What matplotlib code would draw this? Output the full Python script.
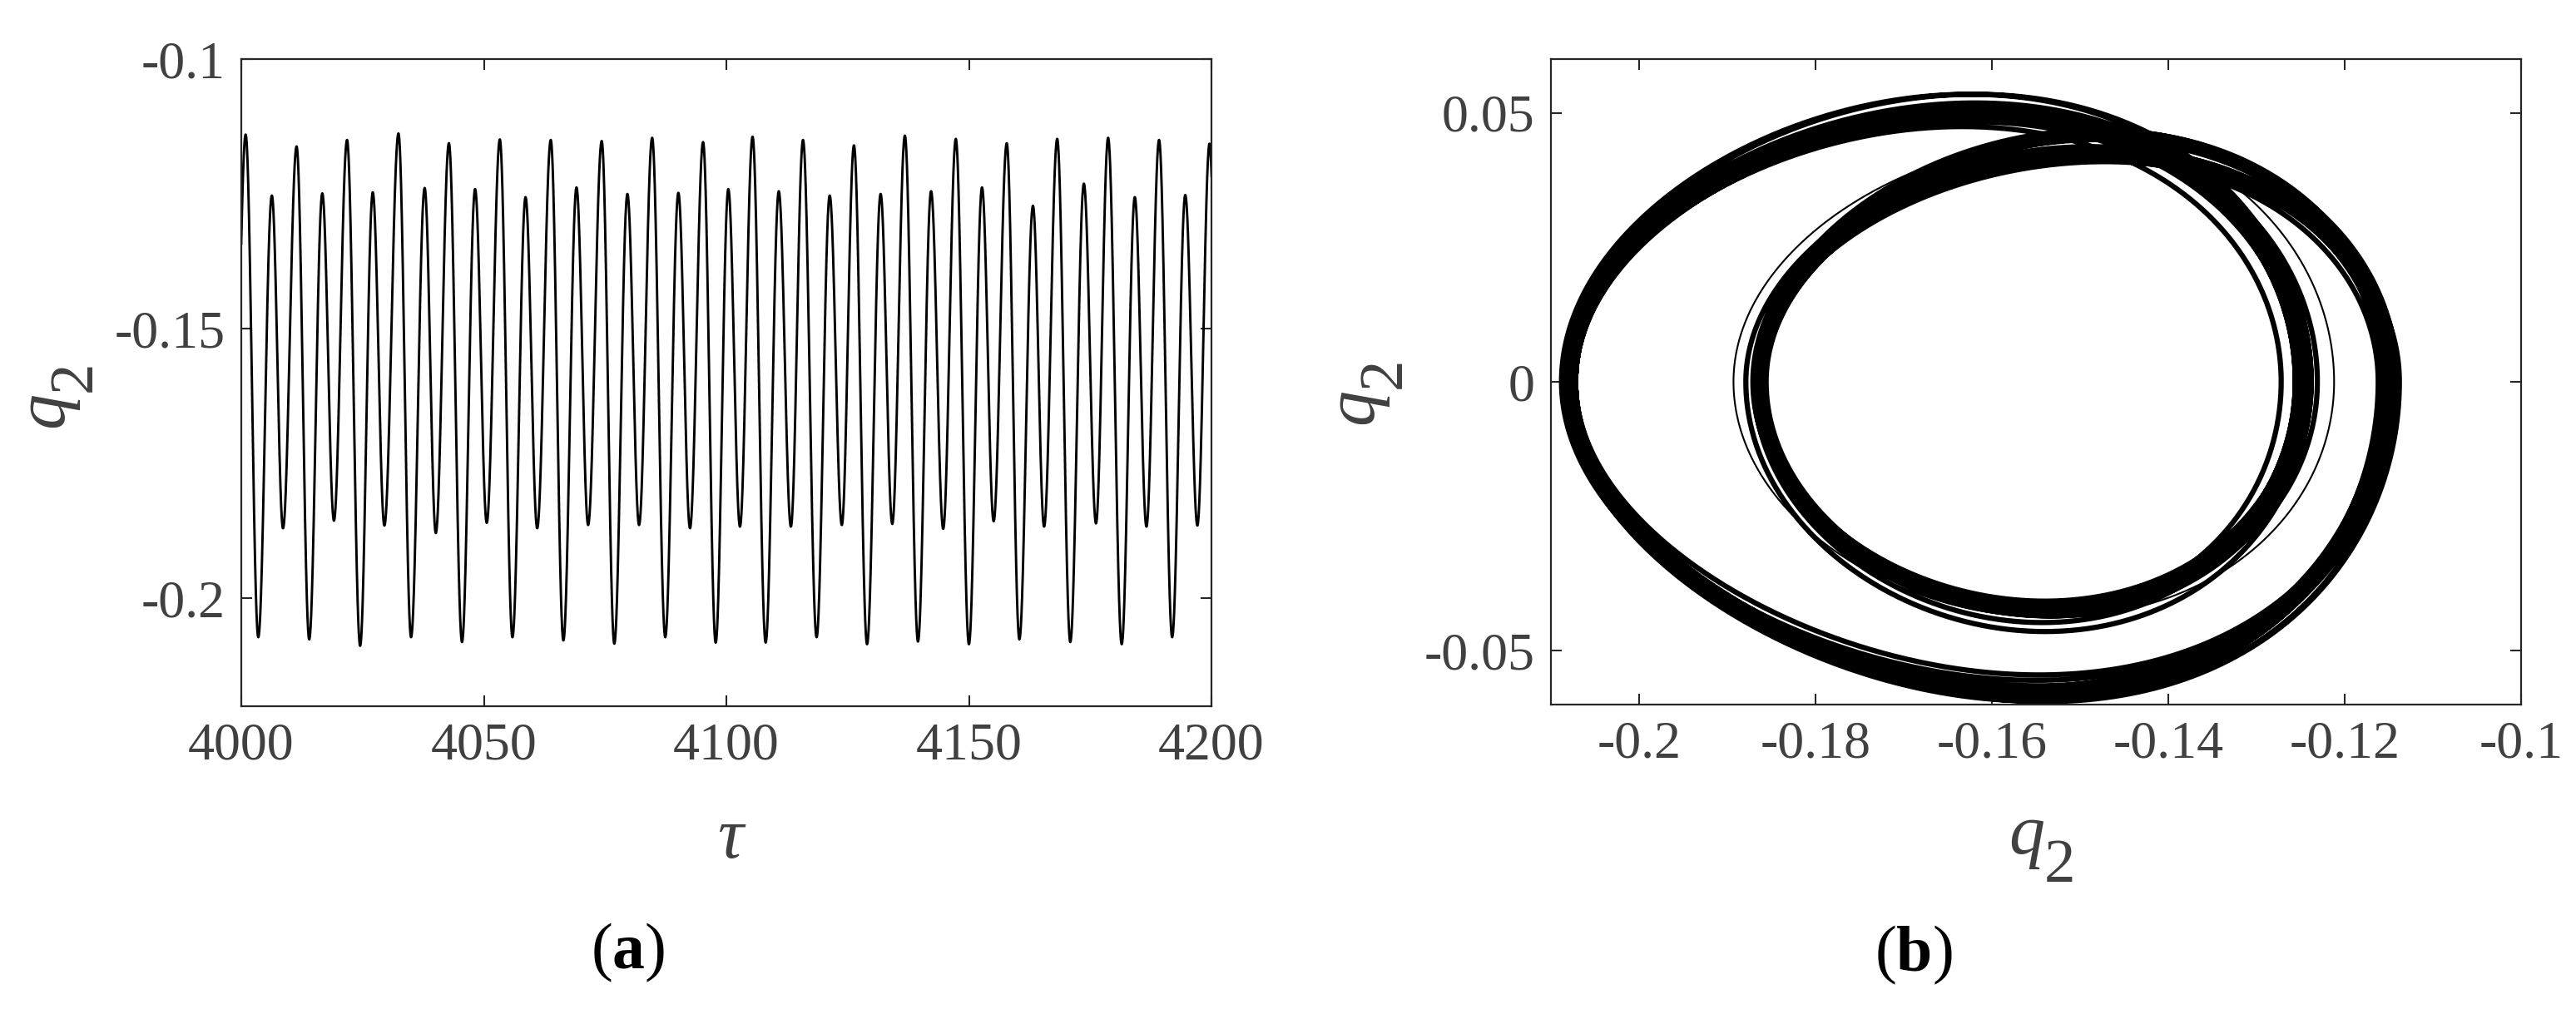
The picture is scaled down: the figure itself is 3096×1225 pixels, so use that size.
import numpy as np
import matplotlib
matplotlib.use("Agg")
import matplotlib.pyplot as plt

plt.rcParams['font.family'] = ['Liberation Serif', 'DejaVu Serif']
plt.rcParams['mathtext.fontset'] = 'custom'
plt.rcParams['mathtext.it'] = 'Liberation Serif:italic'
plt.rcParams['mathtext.rm'] = 'Liberation Serif'
plt.rcParams['mathtext.bf'] = 'Liberation Serif:bold'

# ---- extrema of q2(tau) ----
high_t = [4000.9, 4011.4, 4021.8, 4032.4, 4042.8, 4053.3, 4063.8, 4074.3, 4084.7, 4095.2,
          4105.4, 4115.8, 4126.3, 4136.8, 4147.3, 4157.8, 4168.2, 4178.7, 4189.2, 4199.6]
high_q = [-0.1140, -0.1162, -0.1150, -0.1138, -0.1156, -0.1149, -0.1150, -0.1152, -0.1146, -0.1154,
          -0.1144, -0.1150, -0.1160, -0.1142, -0.1148, -0.1156, -0.1148, -0.1146, -0.1150, -0.1157]
deep_t = [4003.5, 4014.0, 4024.5, 4035.0, 4045.5, 4055.9, 4066.4, 4076.9, 4087.4, 4097.8,
          4108.1, 4118.6, 4129.0, 4139.5, 4150.0, 4160.4, 4170.9, 4181.5, 4191.9]
deep_q = [-0.2072, -0.2076, -0.2088, -0.2072, -0.2081, -0.2072, -0.2078, -0.2084, -0.2072, -0.2082,
          -0.2082, -0.2072, -0.2085, -0.2080, -0.2085, -0.2076, -0.2081, -0.2085, -0.2072]
low_t = [4006.3, 4016.7, 4027.1, 4037.8, 4048.2, 4058.6, 4069.1, 4079.6, 4090.1, 4100.4,
         4110.8, 4121.3, 4131.8, 4142.2, 4152.7, 4163.2, 4173.7, 4184.2, 4194.6]
low_q = [-0.1253, -0.1249, -0.1247, -0.1239, -0.1241, -0.1256, -0.1238, -0.1250, -0.1248, -0.1241,
         -0.1245, -0.1253, -0.1250, -0.1245, -0.1238, -0.1272, -0.1231, -0.1256, -0.1252]
shal_t = [4008.6, 4019.1, 4029.5, 4040.1, 4050.6, 4061.0, 4071.5, 4082.0, 4092.5, 4102.8,
          4113.3, 4123.8, 4134.2, 4144.7, 4155.1, 4165.5, 4176.2, 4186.6, 4197.1]
shal_q = [-0.1870, -0.1856, -0.1865, -0.1879, -0.1860, -0.1870, -0.1864, -0.1864, -0.1870, -0.1867,
          -0.1867, -0.1864, -0.1862, -0.1871, -0.1857, -0.1867, -0.1861, -0.1867, -0.1865]
# extrema just outside the visible window
pre_t, pre_q = 3998.3, -0.1866
post_t, post_q = 4202.2, -0.2078

# phase-plane readings from panel (b): peak dq2/dtau of each half-swing kind
# and where along the swing (fraction of the q2 travel) that peak sits
arc_vpk = {'HD': -0.0577, 'DL': 0.0506, 'LS': -0.0428, 'SH': 0.0440}
arc_peak = {'HD': 0.43, 'DL': 0.55, 'LS': 0.47, 'SH': 0.54}
# one stray inner orbit visible as a thin line in panel (b): D, L, S, H extrema
stray_q = [-0.2080, -0.1212, -0.1893, -0.1150]
stray_vpk = [0.0506, -0.0438, 0.0455]

# ---- assemble ordered extrema ----
ext = [(pre_t, pre_q, 'S')]
for k in range(len(high_t)):
    ext.append((high_t[k], high_q[k], 'H'))
    if k < len(deep_t):
        ext.append((deep_t[k], deep_q[k], 'D'))
        ext.append((low_t[k], low_q[k], 'L'))
        ext.append((shal_t[k], shal_q[k], 'S'))
ext.append((post_t, post_q, 'D'))

segs = [(t0, q0, t1, q1, k0 + k1)
        for (t0, q0, k0), (t1, q1, k1) in zip(ext[:-1], ext[1:])]
mean_rate = {key: np.mean([abs((s[3] - s[1]) / (s[2] - s[0])) for s in segs if s[4] == key])
             for key in arc_vpk}

# time history (panel a): smooth half-swings between the read extrema
u = np.linspace(0, 1, 80)
T = np.concatenate([t0 + u * (t1 - t0) for t0, q0, t1, q1, key in segs])
Q = np.concatenate([q0 + (q1 - q0) * (1 - np.cos(np.pi * u)) / 2 for t0, q0, t1, q1, key in segs])

# phase plane (panel b)
s = np.linspace(0, 1, 300)
w = (1 - np.cos(np.pi * s)) / 2


def arc(q0, q1, vpk, p):
    a = (1 - 2 * p) / (2 * p * (1 - p))
    c = -a / (2 + a * (2 * p - 1))
    f = np.sqrt(np.clip(w * (1 - w), 0, None)) * (1 + c * (2 * w - 1))
    return q0 + (q1 - q0) * w, vpk * f / f.max()


QB, VB = [], []
for t0, q0, t1, q1, key in segs:
    rate = abs((q1 - q0) / (t1 - t0))
    qa, va = arc(q0, q1, arc_vpk[key] * rate / mean_rate[key], arc_peak[key])
    QB.append(qa); VB.append(va)
QB = np.concatenate(QB); VB = np.concatenate(VB)

SQ, SV = [], []
for (q0, q1), vpk, key in zip(zip(stray_q[:-1], stray_q[1:]), stray_vpk, ['DL', 'LS', 'SH']):
    qa, va = arc(q0, q1, vpk, arc_peak[key])
    SQ.append(qa); SV.append(va)
SQ = np.concatenate(SQ); SV = np.concatenate(SV)

# ---- figure ----
W, H = 3096, 1225
fig = plt.figure(figsize=(W / 100, H / 100), dpi=100)
ax1 = fig.add_axes([290 / W, 1 - 849 / H, 1166 / W, 778 / H])
ax2 = fig.add_axes([1864 / W, 1 - 847 / H, 1166 / W, 776 / H])

tick_col = '#404040'
spine_col = '#262626'
for ax in (ax1, ax2):
    for sp in ax.spines.values():
        sp.set_linewidth(1.6)
        sp.set_color(spine_col)
    ax.tick_params(direction='in', length=9.5, width=1.5, top=True, right=True,
                   labelsize=46, labelcolor=tick_col, color=spine_col, pad=14)

ax1.plot(T, Q, color='black', lw=2.1)
ax1.set_xlim(4000, 4200)
ax1.set_ylim(-0.22, -0.1)
ax1.set_xticks([4000, 4050, 4100, 4150, 4200])
ax1.set_xticklabels(['4000', '4050', '4100', '4150', '4200'])
ax1.set_yticks([-0.2, -0.15, -0.1])
ax1.set_yticklabels(['-0.2', '-0.15', '-0.1'])

ax2.plot(QB, VB, color='black', lw=4.5, solid_joinstyle='round')
ax2.plot(SQ, SV, color='black', lw=1.5)
ax2.set_xlim(-0.21, -0.1)
ax2.set_ylim(-0.06, 0.06)
ax2.set_xticks([-0.2, -0.18, -0.16, -0.14, -0.12, -0.1])
ax2.set_xticklabels(['-0.2', '-0.18', '-0.16', '-0.14', '-0.12', '-0.1'])
ax2.set_yticks([-0.05, 0, 0.05])
ax2.set_yticklabels(['-0.05', '0', '0.05'])

q_fs, sub_fs = 62, 54


def q2_label(xq, yq, xs, ys, rot):
    fig.text(xq / W, 1 - yq / H, 'q', style='italic', fontsize=q_fs, color=tick_col,
             ha='center', va='baseline', rotation=rot, rotation_mode='anchor')
    fig.text(xs / W, 1 - ys / H, '2', fontsize=sub_fs, color=tick_col,
             ha='center', va='baseline', rotation=rot, rotation_mode='anchor')


q2_label(75, 492, 109, 452, 90)        # y-label of (a)
q2_label(1649, 488, 1683, 448, 90)     # y-label of (b)
q2_label(2436, 1026, 2476, 1060, 0)    # x-label of (b)
fig.text(878 / W, 1 - 1010 / H, 'τ', style='italic', ha='center', va='center',
         fontsize=q_fs, color=tick_col)
fig.text(755 / W, 1 - 1145 / H, r'$(\mathbf{a})$', ha='center', va='center',
         fontsize=56, color='black')
fig.text(2300 / W, 1 - 1148 / H, r'$(\mathbf{b})$', ha='center', va='center',
         fontsize=56, color='black')

fig.savefig('out.png', dpi=100)
